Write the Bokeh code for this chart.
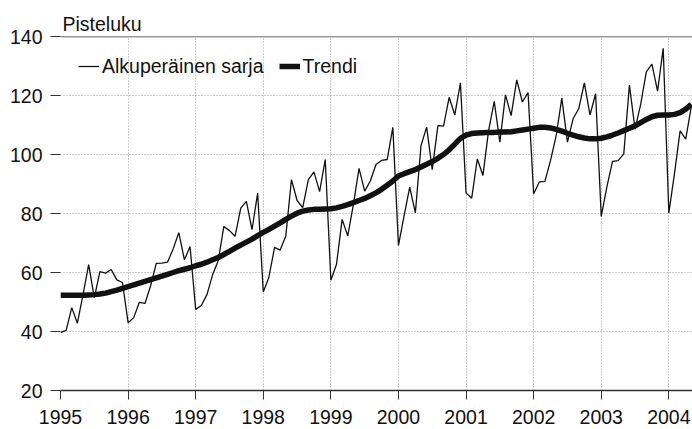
from bokeh.plotting import figure
from bokeh.models import FixedTicker, Range1d, Span, Legend, LegendItem, ColumnDataSource
from bokeh.embed import file_html
from bokeh.resources import INLINE

# Monthly index values, Jan 1995 .. May 2004
original = [
    39.6, 40.4, 48.1, 42.8, 52.5, 62.7, 51.5, 60.3, 59.8, 61.0, 57.5, 56.6,
    43.0, 44.7, 49.9, 49.5, 55.5, 63.1, 63.2, 63.5, 68.0, 73.5, 64.3, 68.8,
    47.5, 48.8, 52.5, 59.2, 64.0, 75.6, 74.2, 72.3, 81.8, 84.1, 74.5, 86.9,
    53.4, 58.4, 68.5, 67.6, 72.4, 91.5, 84.4, 82.0, 91.5, 94.1, 87.4, 98.3,
    57.4, 62.8, 78.0, 72.4, 83.1, 95.3, 87.6, 91.0, 96.6, 98.0, 98.3, 109.2,
    69.2, 79.3, 88.9, 80.2, 103.0, 109.3, 94.9, 109.8, 109.6, 119.4, 113.4, 124.3,
    87.0, 85.2, 98.5, 92.9, 108.1, 118.0, 104.2, 120.2, 113.2, 125.3, 117.8, 121.0,
    86.7, 90.7, 90.9, 98.0, 106.4, 119.1, 104.2, 112.1, 115.5, 124.3, 113.4, 120.6,
    79.0, 89.0, 97.7, 97.9, 100.2, 123.5, 108.6, 117.0, 128.0, 130.6, 121.5, 136.0,
    80.2, 93.5, 108.0, 105.2, 116.4,
]
trend = [
    52.3, 52.3, 52.3, 52.3, 52.3, 52.4, 52.5, 52.7, 53.0, 53.5, 54.0, 54.6,
    55.2, 55.8, 56.4, 57.0, 57.6, 58.2, 58.8, 59.4, 60.0, 60.6, 61.1, 61.6,
    62.3, 62.8, 63.5, 64.3, 65.1, 66.1, 67.2, 68.3, 69.3, 70.3, 71.3, 72.5,
    73.6, 74.6, 75.7, 76.8, 78.0, 79.1, 80.1, 80.8, 81.2, 81.4, 81.4, 81.5,
    81.6, 81.9, 82.4, 83.0, 83.7, 84.4, 85.1, 86.0, 87.0, 88.2, 89.6, 91.0,
    92.7, 93.5, 94.2, 94.9, 95.8, 96.7, 97.6, 98.7, 100.0, 101.6, 103.5, 105.5,
    106.6, 107.1, 107.3, 107.4, 107.5, 107.5, 107.6, 107.6, 107.7, 108.0, 108.3, 108.6,
    108.9, 109.2, 109.2, 109.0, 108.5, 107.9, 107.2, 106.6, 106.0, 105.6, 105.3, 105.3,
    105.5, 106.0, 106.6, 107.3, 108.1, 108.9, 109.7, 110.8, 111.9, 112.8, 113.3, 113.4,
    113.4, 113.6, 114.2, 115.4, 117.0,
]
start_year = 1995
year_ticks = [1995, 1996, 1997, 1998, 1999, 2000, 2001, 2002, 2003, 2004]
y_ticks = [20, 40, 60, 80, 100, 120, 140]
y_label = "Pisteluku"
series_names = ["Alkuperäinen sarja", "Trendi"]

x = [start_year + i / 12 for i in range(len(original))]
src = ColumnDataSource(dict(x=x, orig=original, trend=trend))

FONT = "Liberation Sans"

p = figure(width=692, height=429, output_backend="svg", toolbar_location=None,
           x_range=Range1d(1995, 2004.35), y_range=Range1d(20, 140),
           min_border_left=60, min_border_right=0, min_border_top=36, min_border_bottom=39)
p.outline_line_color = None
p.background_fill_color = "white"
p.border_fill_color = "white"

p.title.text = y_label
p.title.align = "left"
p.title.text_font = FONT
p.title.text_font_size = "19.5px"
p.title.text_font_style = "normal"
p.title.text_color = "#111111"
p.title.offset = 2
p.title.standoff = 4

r1 = p.line("x", "orig", source=src, line_color="#111111", line_width=1.3)
r2 = p.line("x", "trend", source=src, line_color="#111111", line_width=5.5)

p.xaxis.ticker = FixedTicker(ticks=year_ticks)
p.xaxis.major_label_overrides = {t: str(t) for t in year_ticks}
p.yaxis.ticker = FixedTicker(ticks=y_ticks)

for ax in (p.xaxis[0], p.yaxis[0]):
    ax.major_label_text_font = FONT
    ax.major_label_text_font_size = "19.5px"
    ax.major_label_text_color = "#111111"
    ax.minor_tick_line_color = None
    ax.major_tick_in = 0
    ax.major_tick_line_color = "#333333"
p.xaxis.major_tick_out = 9
p.xaxis.major_label_standoff = 10
p.xaxis.axis_line_color = "#333333"
p.xaxis.axis_line_width = 1.5
p.yaxis.major_tick_out = 10
p.yaxis.major_label_standoff = 8
p.yaxis.axis_line_color = None

for g in (p.xgrid[0], p.ygrid[0]):
    g.grid_line_color = "#999999"
    g.grid_line_dash = "1 2"
    g.grid_line_width = 1

p.add_layout(Span(location=140, dimension="width", line_color="#333333", line_width=1.5))

legend = Legend(items=[LegendItem(label=series_names[0], renderers=[r1]),
                       LegendItem(label=series_names[1], renderers=[r2])],
                location="top_left", orientation="horizontal",
                border_line_color=None, background_fill_alpha=0,
                label_text_font=FONT, label_text_font_size="19.5px", label_text_color="#111111",
                glyph_width=21, glyph_height=24, label_height=24, label_standoff=3,
                spacing=15, padding=0, margin=18)
p.add_layout(legend)

open("out.html", "w").write(file_html(p, INLINE))
